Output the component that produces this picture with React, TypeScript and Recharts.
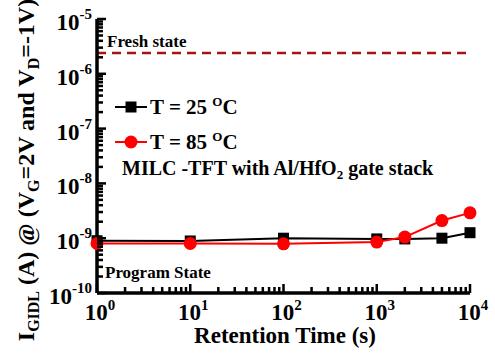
import React from 'react';
import { LineChart, Line, XAxis, YAxis, ReferenceLine, Legend } from 'recharts';

const retentionTime = [1, 10, 100, 1000, 2000, 5000, 10000];
const igidl25 = [9.0e-10, 8.9e-10, 1.0e-9, 9.7e-10, 9.7e-10, 1.0e-9, 1.26e-9];
const igidl85 = [8.0e-10, 8.0e-10, 7.9e-10, 8.5e-10, 1.05e-9, 2.1e-9, 2.9e-9];
const freshState = 2.4e-6;

const xMajorTicks = [1, 10, 100, 1000, 10000];
const xMajorExp = ['0', '1', '2', '3', '4'];
const yMajorTicks = [1e-10, 1e-9, 1e-8, 1e-7, 1e-6, 1e-5];
const yMajorExp = ['-10', '-9', '-8', '-7', '-6', '-5'];
const minorMultipliers = [2, 3, 4, 5, 6, 7, 8, 9];

const xAllTicks: number[] = [];
xMajorTicks.forEach((m, i) => {
  xAllTicks.push(m);
  if (i < xMajorTicks.length - 1) minorMultipliers.forEach((k) => xAllTicks.push(m * k));
});
const yAllTicks: number[] = [];
yMajorTicks.forEach((m, i) => {
  yAllTicks.push(m);
  if (i < yMajorTicks.length - 1) minorMultipliers.forEach((k) => yAllTicks.push(m * k));
});

const data = retentionTime.map((t, i) => ({ t, a: igidl25[i], b: igidl85[i] }));

const FONT = "'Liberation Serif', 'Times New Roman', serif";
const MINOR = 6;
const MAJOR = 9;
const TW = 2.5;

const majorIndex = (list: number[], v: number) =>
  list.findIndex((m) => Math.abs(Math.log10(m) - Math.log10(v)) < 1e-6);

// tickSize=0 and tickMargin=0, so (x, y) handed to the tick is the axis-line point.
const BottomTick = (props: any) => {
  const { x, y, payload } = props;
  const idx = majorIndex(xMajorTicks, payload.value);
  const len = idx >= 0 ? MAJOR : MINOR;
  return (
    <g>
      <rect x={x - TW / 2} y={y - len} width={TW} height={len} fill="#000" />
      {idx >= 0 && (
        <text x={x + 3} y={y + 27} textAnchor="middle" fontFamily={FONT} fontWeight="bold" fontSize={23} fill="#000">
          <tspan>10</tspan>
          <tspan dy={-10} fontSize={15}>{xMajorExp[idx]}</tspan>
        </text>
      )}
    </g>
  );
};

const TopTick = (props: any) => {
  const { x, y, payload } = props;
  const len = majorIndex(xMajorTicks, payload.value) >= 0 ? MAJOR : MINOR;
  return <rect x={x - TW / 2} y={y} width={TW} height={len} fill="#000" />;
};

const LeftTick = (props: any) => {
  const { x, y, payload } = props;
  const idx = majorIndex(yMajorTicks, payload.value);
  const len = idx >= 0 ? MAJOR : MINOR;
  return (
    <g>
      <rect x={x} y={y - TW / 2} width={len} height={TW} fill="#000" />
      {idx >= 0 && (
        <text x={x - 5} y={y + 11} textAnchor="end" fontFamily={FONT} fontWeight="bold" fontSize={23} fill="#000">
          <tspan>10</tspan>
          <tspan dy={-11} fontSize={15}>{yMajorExp[idx]}</tspan>
        </text>
      )}
    </g>
  );
};

const RightTick = (props: any) => {
  const { x, y, payload } = props;
  const len = majorIndex(yMajorTicks, payload.value) >= 0 ? MAJOR : MINOR;
  return <rect x={x - len} y={y - TW / 2} width={len} height={TW} fill="#000" />;
};

const Square = (props: any) => {
  const { cx, cy } = props;
  if (cx == null || cy == null) return null;
  return <rect x={cx - 5.5} y={cy - 5.5} width={11} height={11} fill="#000" />;
};
const Circle = (props: any) => {
  const { cx, cy } = props;
  if (cx == null || cy == null) return null;
  return <circle cx={cx} cy={cy} r={6.5} fill="#ff0000" />;
};

const LegendContent = () => (
  <svg width={200} height={70} style={{ overflow: 'visible' }}>
    <g>
      <line x1={5} x2={37} y1={17} y2={17} stroke="#000" strokeWidth={2} />
      <rect x={15.5} y={11.5} width={11} height={11} fill="#000" />
      <text x={40} y={24} fontFamily={FONT} fontWeight="bold" fontSize={21} fill="#000">
        T = 25 <tspan dy={-8} fontSize={13}>O</tspan><tspan dy={8}>C</tspan>
      </text>
    </g>
    <g>
      <line x1={5} x2={37} y1={52} y2={52} stroke="#ff0000" strokeWidth={2} />
      <circle cx={21} cy={52} r={6.5} fill="#ff0000" />
      <text x={40} y={59} fontFamily={FONT} fontWeight="bold" fontSize={21} fill="#000">
        T = 85 <tspan dy={-8} fontSize={13}>O</tspan><tspan dy={8}>C</tspan>
      </text>
    </g>
  </svg>
);

const axisLine = { stroke: '#000', strokeWidth: 3.5 };

export default function App() {
  return (
    <div style={{ position: 'absolute', left: 0, top: 0, width: 495, height: 358, background: '#fff' }}>
      <LineChart width={495} height={358} data={data} margin={{ top: 19, right: 25, bottom: 0, left: 0 }}>
        <XAxis
          xAxisId="bottom"
          dataKey="t"
          type="number"
          scale="log"
          domain={[1, 10000]}
          ticks={xAllTicks}
          interval={0}
          height={65}
          tickSize={0}
          tickMargin={0}
          tickLine={false}
          axisLine={axisLine}
          tick={<BottomTick />}
        />
        <XAxis
          xAxisId="top"
          orientation="top"
          dataKey="t"
          type="number"
          scale="log"
          domain={[1, 10000]}
          ticks={xAllTicks}
          interval={0}
          height={0}
          tickSize={0}
          tickMargin={0}
          tickLine={false}
          axisLine={axisLine}
          tick={<TopTick />}
        />
        <YAxis
          yAxisId="left"
          type="number"
          scale="log"
          domain={[1e-10, 1e-5]}
          ticks={yAllTicks}
          interval={0}
          width={97}
          tickSize={0}
          tickMargin={0}
          tickLine={false}
          axisLine={axisLine}
          tick={<LeftTick />}
        />
        <YAxis
          yAxisId="right"
          orientation="right"
          type="number"
          scale="log"
          domain={[1e-10, 1e-5]}
          ticks={yAllTicks}
          interval={0}
          width={0}
          tickSize={0}
          tickMargin={0}
          tickLine={false}
          axisLine={axisLine}
          tick={<RightTick />}
        />
        <ReferenceLine
          xAxisId="bottom"
          yAxisId="left"
          y={freshState}
          stroke="#a31515"
          strokeWidth={2.5}
          strokeDasharray="9 6"
        />
        <Line
          xAxisId="bottom"
          yAxisId="left"
          dataKey="a"
          stroke="#000"
          strokeWidth={2}
          dot={<Square />}
          isAnimationActive={false}
        />
        <Line
          xAxisId="bottom"
          yAxisId="left"
          dataKey="b"
          stroke="#ff0000"
          strokeWidth={2}
          dot={<Circle />}
          isAnimationActive={false}
        />
        <Legend
          layout="vertical"
          align="center"
          verticalAlign="middle"
          wrapperStyle={{ left: 110, top: 90, width: 200, height: 70 }}
          content={<LegendContent />}
        />
      </LineChart>
      <svg width={495} height={358} style={{ position: 'absolute', left: 0, top: 0, pointerEvents: 'none' }}>
        <text transform="translate(34,170) rotate(-90)" textAnchor="middle" fontFamily={FONT} fontWeight="bold" fontSize={24} fill="#000">
          I<tspan dy={5} fontSize={16}>GIDL</tspan>
          <tspan dy={-5}> (A) @ (V</tspan>
          <tspan dy={5} fontSize={16}>G</tspan>
          <tspan dy={-5}>=2V and V</tspan>
          <tspan dy={5} fontSize={16}>D</tspan>
          <tspan dy={-5}>=-1V)</tspan>
        </text>
        <text x={285} y={343} textAnchor="middle" fontFamily={FONT} fontWeight="bold" fontSize={23} fill="#000">
          Retention Time (s)
        </text>
        <text x={107} y={47} fontFamily={FONT} fontWeight="bold" fontSize={17} fill="#000">
          Fresh state
        </text>
        <text x={105} y={278} fontFamily={FONT} fontWeight="bold" fontSize={17} fill="#000">
          Program State
        </text>
        <text x={122} y={175} fontFamily={FONT} fontWeight="bold" fontSize={20} fill="#000">
          MILC -TFT with Al/HfO<tspan dy={4} fontSize={13}>2</tspan><tspan dy={-4}> gate stack</tspan>
        </text>
      </svg>
    </div>
  );
}
